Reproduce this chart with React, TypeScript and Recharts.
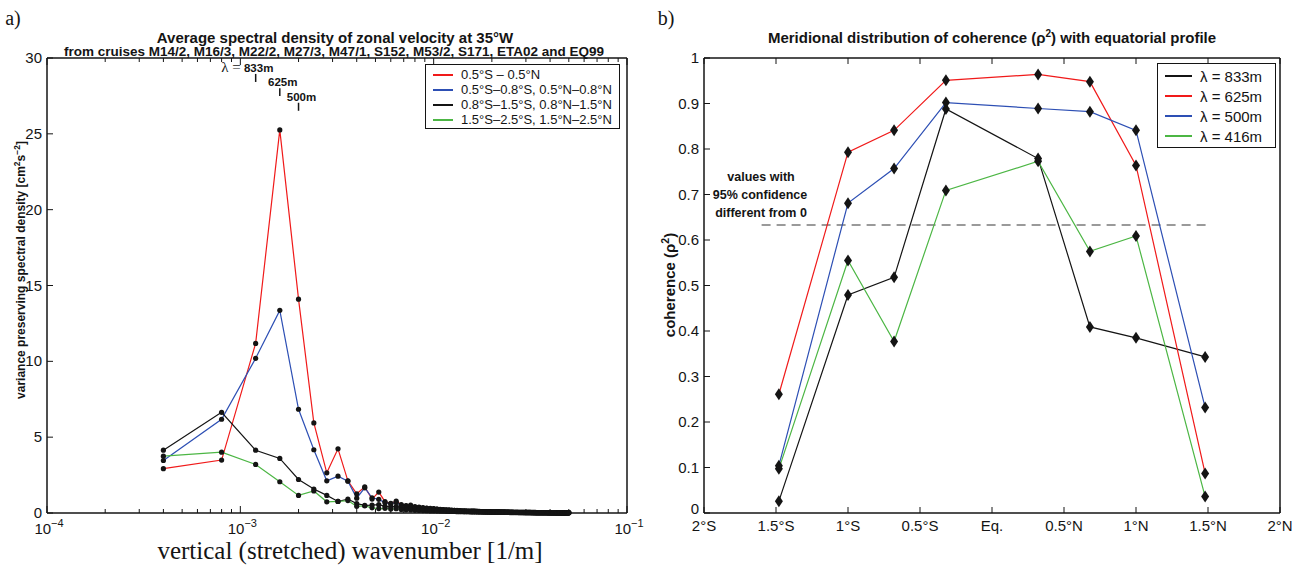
import React from "react";
import { LineChart, Line, XAxis, YAxis, ReferenceLine } from "recharts";

const SANS = "'Liberation Sans', Arial, Helvetica, sans-serif";
const SERIF = "'Liberation Serif', 'Times New Roman', serif";
const INK = "#141414";

// ---- panel a): spectra, one estimate every 1/2500 m^-1 ----
const wavenumberStep = 1 / 2500;

const spectrumEq = [
  2.92, 3.49, 11.18, 25.26, 14.1, 5.94, 2.65, 4.23, 2.12, 1.27,
  1.72, 0.92, 1.38, 0.75, 0.64, 0.78, 0.56, 0.48, 0.52, 0.42,
  0.39, 0.36, 0.33, 0.3, 0.29, 0.26, 0.24, 0.23, 0.21, 0.2,
  0.19, 0.18, 0.17, 0.16, 0.15, 0.15, 0.14, 0.13, 0.13, 0.12,
  0.12, 0.11, 0.11, 0.1, 0.1, 0.1, 0.09, 0.09, 0.09, 0.08,
  0.08, 0.08, 0.08, 0.07, 0.07, 0.07, 0.07, 0.07, 0.06, 0.06,
  0.06, 0.06, 0.06, 0.06, 0.05, 0.05, 0.05, 0.05, 0.05, 0.05,
  0.05, 0.05, 0.04, 0.04, 0.04, 0.04, 0.04, 0.04, 0.04, 0.04,
  0.04, 0.04, 0.04, 0.04, 0.03, 0.03, 0.03, 0.03, 0.03, 0.03,
  0.03, 0.03, 0.03, 0.03, 0.03, 0.03, 0.03, 0.03, 0.03, 0.03,
  0.03, 0.03, 0.03, 0.03, 0.03, 0.02, 0.02, 0.02, 0.02, 0.02,
  0.02, 0.02, 0.02, 0.02, 0.02, 0.02, 0.02, 0.02, 0.02, 0.02,
  0.02, 0.02, 0.02, 0.02, 0.02,
];
const spectrumInner = [
  3.46, 6.18, 10.2, 13.36, 6.84, 4.17, 2.12, 2.43, 2.1, 0.98,
  1.66, 1.0, 0.9, 0.68, 0.6, 0.7, 0.5, 0.46, 0.44, 0.38,
  0.36, 0.33, 0.3, 0.28, 0.27, 0.25, 0.23, 0.22, 0.2, 0.19,
  0.18, 0.17, 0.16, 0.16, 0.15, 0.14, 0.13, 0.13, 0.12, 0.12,
  0.11, 0.11, 0.1, 0.1, 0.09, 0.09, 0.09, 0.08, 0.08, 0.08,
  0.08, 0.07, 0.07, 0.07, 0.07, 0.06, 0.06, 0.06, 0.06, 0.06,
  0.06, 0.05, 0.05, 0.05, 0.05, 0.05, 0.05, 0.05, 0.04, 0.04,
  0.04, 0.04, 0.04, 0.04, 0.04, 0.04, 0.04, 0.04, 0.04, 0.03,
  0.03, 0.03, 0.03, 0.03, 0.03, 0.03, 0.03, 0.03, 0.03, 0.03,
  0.03, 0.03, 0.03, 0.03, 0.03, 0.03, 0.03, 0.03, 0.03, 0.02,
  0.02, 0.02, 0.02, 0.02, 0.02, 0.02, 0.02, 0.02, 0.02, 0.02,
  0.02, 0.02, 0.02, 0.02, 0.02, 0.02, 0.02, 0.02, 0.02, 0.02,
  0.02, 0.02, 0.02, 0.02, 0.02,
];
const spectrumMid = [
  4.14, 6.64, 4.14, 3.6, 2.21, 1.58, 1.16, 0.76, 0.92, 0.62,
  0.5, 0.52, 0.55, 0.44, 0.4, 0.43, 0.35, 0.31, 0.3, 0.27,
  0.25, 0.24, 0.22, 0.2, 0.19, 0.18, 0.17, 0.16, 0.15, 0.14,
  0.14, 0.13, 0.12, 0.12, 0.11, 0.11, 0.1, 0.1, 0.09, 0.09,
  0.09, 0.08, 0.08, 0.08, 0.07, 0.07, 0.07, 0.07, 0.06, 0.06,
  0.06, 0.06, 0.06, 0.05, 0.05, 0.05, 0.05, 0.05, 0.05, 0.04,
  0.04, 0.04, 0.04, 0.04, 0.04, 0.04, 0.04, 0.04, 0.03, 0.03,
  0.03, 0.03, 0.03, 0.03, 0.03, 0.03, 0.03, 0.03, 0.03, 0.03,
  0.03, 0.03, 0.02, 0.02, 0.02, 0.02, 0.02, 0.02, 0.02, 0.02,
  0.02, 0.02, 0.02, 0.02, 0.02, 0.02, 0.02, 0.02, 0.02, 0.02,
  0.02, 0.02, 0.02, 0.02, 0.02, 0.02, 0.02, 0.02, 0.02, 0.02,
  0.01, 0.01, 0.01, 0.01, 0.01, 0.01, 0.01, 0.01, 0.01, 0.01,
  0.01, 0.01, 0.01, 0.01, 0.01,
];
const spectrumOuter = [
  3.75, 4.01, 3.2, 2.06, 1.16, 1.45, 0.74, 0.76, 0.82, 0.44,
  0.47, 0.34, 0.29, 0.31, 0.26, 0.28, 0.23, 0.21, 0.2, 0.18,
  0.17, 0.16, 0.15, 0.14, 0.14, 0.13, 0.12, 0.12, 0.11, 0.1,
  0.1, 0.1, 0.09, 0.09, 0.09, 0.08, 0.08, 0.08, 0.07, 0.07,
  0.07, 0.07, 0.06, 0.06, 0.06, 0.06, 0.06, 0.05, 0.05, 0.05,
  0.05, 0.05, 0.05, 0.04, 0.04, 0.04, 0.04, 0.04, 0.04, 0.04,
  0.04, 0.03, 0.03, 0.03, 0.03, 0.03, 0.03, 0.03, 0.03, 0.03,
  0.03, 0.03, 0.03, 0.02, 0.02, 0.02, 0.02, 0.02, 0.02, 0.02,
  0.02, 0.02, 0.02, 0.02, 0.02, 0.02, 0.02, 0.02, 0.02, 0.02,
  0.02, 0.02, 0.02, 0.02, 0.02, 0.02, 0.01, 0.01, 0.01, 0.01,
  0.01, 0.01, 0.01, 0.01, 0.01, 0.01, 0.01, 0.01, 0.01, 0.01,
  0.01, 0.01, 0.01, 0.01, 0.01, 0.01, 0.01, 0.01, 0.01, 0.01,
  0.01, 0.01, 0.01, 0.01, 0.01,
];

const spectrumSeries = [
  { key: "eq", label: "0.5°S – 0.5°N", color: "#f01a1a" },
  { key: "inner", label: "0.5°S–0.8°S, 0.5°N–0.8°N", color: "#2d4fb4" },
  { key: "mid", label: "0.8°S–1.5°S, 0.8°N–1.5°N", color: INK },
  { key: "outer", label: "1.5°S–2.5°S, 1.5°N–2.5°N", color: "#4cb644" },
];

const decadeTicks = [1e-4, 1e-3, 1e-2, 1e-1];
const decadeExponents = ["−4", "−3", "−2", "−1"];
const densityTicks = [0, 5, 10, 15, 20, 25, 30];

// wavelength marks above the peak
const lambdaMarks = [
  { text: "833m", wavelength: 833, top: 28.95, bottom: 28.42 },
  { text: "625m", wavelength: 625, top: 28.0, bottom: 27.49 },
  { text: "500m", wavelength: 500, top: 27.05, bottom: 26.52 },
];

const logTicks: number[] = [];
decadeTicks.slice(0, 3).forEach((d) => {
  for (let m = 1; m <= 9; m++) logTicks.push(m * d);
});
logTicks.push(1e-1);

const spectrumRows = spectrumEq.map((v, i) => ({
  k: (i + 1) * wavenumberStep,
  eq: v,
  inner: spectrumInner[i],
  mid: spectrumMid[i],
  outer: spectrumOuter[i],
}));

// ---- panel b): coherence with the equatorial profile ----
const latitudes = [-1.48, -1.0, -0.68, -0.32, 0.32, 0.68, 1.0, 1.48];
const coherence833 = [0.026, 0.479, 0.518, 0.888, 0.779, 0.409, 0.385, 0.343];
const coherence625 = [0.261, 0.793, 0.841, 0.951, 0.964, 0.948, 0.764, 0.087];
const coherence500 = [0.104, 0.681, 0.757, 0.902, 0.889, 0.882, 0.841, 0.232];
const coherence416 = [0.097, 0.555, 0.377, 0.709, 0.773, 0.575, 0.609, 0.036];

const coherenceSeries = [
  { key: "c833", label: "λ = 833m", color: INK },
  { key: "c625", label: "λ = 625m", color: "#f01a1a" },
  { key: "c500", label: "λ = 500m", color: "#2d4fb4" },
  { key: "c416", label: "λ = 416m", color: "#4cb644" },
];

const latitudeTicks = [-2, -1.5, -1, -0.5, 0, 0.5, 1, 1.5, 2];
const latitudeLabels = ["2°S", "1.5°S", "1°S", "0.5°S", "Eq.", "0.5°N", "1°N", "1.5°N", "2°N"];
const coherenceTicks = [0, 0.1, 0.2, 0.3, 0.4, 0.5, 0.6, 0.7, 0.8, 0.9, 1];
const significanceLevel = 0.633;
const significanceSpan = [-1.6, 1.52];

const coherenceRows = latitudes.map((lat, i) => ({
  lat,
  c833: coherence833[i],
  c625: coherence625[i],
  c500: coherence500[i],
  c416: coherence416[i],
}));

// ---- tick renderers (all ticks point into the box) ----
const isDecade = (v: number) => decadeTicks.findIndex((d) => Math.abs(v - d) / d < 1e-6);

function LogBottomTick({ x, y, payload }: any) {
  const di = isDecade(payload.value);
  return (
    <g>
      <line x1={x} x2={x} y1={y} y2={y - (di >= 0 ? 7 : 4)} stroke={INK} />
      {di >= 0 && (
        <text x={x + 2} y={y + 21} textAnchor="middle" fontSize={15} fill={INK} fontFamily={SANS}>
          10
          <tspan dy={-7} fontSize={11}>
            {decadeExponents[di]}
          </tspan>
        </text>
      )}
    </g>
  );
}

function LogTopTick({ x, y, payload }: any) {
  const di = isDecade(payload.value);
  return <line x1={x} x2={x} y1={y} y2={y + (di >= 0 ? 7 : 4)} stroke={INK} />;
}

function LeftTick({ x, y, payload, fmt, zeroLift = 0 }: any) {
  const lift = payload.value === 0 ? zeroLift : 0;
  return (
    <g>
      <line x1={x} x2={x + 6} y1={y} y2={y} stroke={INK} />
      <text x={x - 5} y={y + 5 - lift} textAnchor="end" fontSize={15} fill={INK} fontFamily={SANS}>
        {fmt ? fmt(payload.value) : payload.value}
      </text>
    </g>
  );
}

function RightTick({ x, y }: any) {
  return <line x1={x} x2={x - 6} y1={y} y2={y} stroke={INK} />;
}

function LatBottomTick({ x, y, index }: any) {
  return (
    <g>
      <line x1={x} x2={x} y1={y} y2={y - 6} stroke={INK} />
      <text x={x} y={y + 18} textAnchor="middle" fontSize={15} fill={INK} fontFamily={SANS}>
        {latitudeLabels[index]}
      </text>
    </g>
  );
}

function LatTopTick({ x, y }: any) {
  return <line x1={x} x2={x} y1={y} y2={y + 6} stroke={INK} />;
}

function Diamond({ cx, cy }: any) {
  if (cx == null || cy == null) return null;
  return <path d={`M${cx},${cy - 6}L${cx + 4},${cy}L${cx},${cy + 6}L${cx - 4},${cy}Z`} fill={INK} />;
}

const fmtCoherence = (v: number) => (v === 0 || v === 1 ? String(v) : v.toFixed(1));

// ---- HTML text helpers ----
function Txt({ x, y, children, style }: any) {
  return (
    <div
      style={{
        position: "absolute",
        left: x,
        top: y,
        transform: "translate(-50%, -50%)",
        whiteSpace: "nowrap",
        fontFamily: SANS,
        color: INK,
        lineHeight: 1,
        ...style,
      }}
    >
      {children}
    </div>
  );
}

function Legend({ left, top, width, rowHeight, fontSize, items, lineWidth }: any) {
  return (
    <div
      style={{
        position: "absolute",
        left,
        top,
        width,
        padding: "2px 0 1px 0",
        border: `1.5px solid ${INK}`,
        background: "#fff",
        fontFamily: SANS,
        fontSize,
        color: INK,
        boxSizing: "border-box",
      }}
    >
      {items.map((s: any) => (
        <div key={s.key} style={{ display: "flex", alignItems: "center", height: rowHeight, whiteSpace: "nowrap" }}>
          <span style={{ display: "inline-block", width: lineWidth, height: 2, background: s.color, margin: "0 8px 0 7px" }} />
          {s.label}
        </div>
      ))}
    </div>
  );
}

export default function App() {
  return (
    <div style={{ position: "absolute", left: 0, top: 0, width: 1297, height: 570, background: "#fff" }}>
      {/* panel a */}
      <div style={{ position: "absolute", left: 0, top: 0 }}>
        <LineChart width={650} height={570} data={spectrumRows} margin={{ top: 48, right: 0, bottom: 0, left: 0 }}>
          <XAxis
            dataKey="k"
            type="number"
            scale="log"
            domain={[1e-4, 1e-1]}
            ticks={logTicks}
            interval={0}
            height={57}
            tickSize={0}
            tickMargin={0}
            axisLine={{ stroke: INK, strokeWidth: 1.5 }}
            tick={(p: any) => <LogBottomTick {...p} />}
          />
          <XAxis
            xAxisId="top"
            orientation="top"
            dataKey="k"
            type="number"
            scale="log"
            domain={[1e-4, 1e-1]}
            ticks={logTicks}
            interval={0}
            height={10}
            tickSize={0}
            tickMargin={0}
            axisLine={{ stroke: INK, strokeWidth: 1.5 }}
            tick={(p: any) => <LogTopTick {...p} />}
          />
          <YAxis
            type="number"
            domain={[0, 30]}
            ticks={densityTicks}
            interval={0}
            width={47}
            tickSize={0}
            tickMargin={0}
            axisLine={{ stroke: INK, strokeWidth: 1.5 }}
            tick={(p: any) => <LeftTick {...p} />}
          />
          <YAxis
            yAxisId="r"
            orientation="right"
            type="number"
            domain={[0, 30]}
            ticks={densityTicks}
            interval={0}
            width={23}
            tickSize={0}
            tickMargin={0}
            axisLine={{ stroke: INK, strokeWidth: 1.5 }}
            tick={(p: any) => <RightTick {...p} />}
          />
          {lambdaMarks.map((m, i) => (
            <ReferenceLine
              key={m.text}
              segment={[
                { x: 1 / m.wavelength, y: m.top },
                { x: 1 / m.wavelength, y: m.bottom },
              ]}
              stroke={INK}
              strokeWidth={1.5}
              label={(p: any) => (
                <g>
                  {i === 0 && (
                    <text x={p.viewBox.x - 15} y={p.viewBox.y - 2} textAnchor="end" fontSize={15} fill={INK} fontFamily={SERIF}>
                      λ =
                    </text>
                  )}
                  <text
                    x={p.viewBox.x + 3}
                    y={p.viewBox.y - 2}
                    textAnchor="middle"
                    fontSize={11.5}
                    fontWeight="bold"
                    fill={INK}
                    fontFamily={SANS}
                  >
                    {m.text}
                  </text>
                </g>
              )}
            />
          ))}
          {spectrumSeries.map((s) => (
            <Line
              key={s.key}
              dataKey={s.key}
              type="linear"
              stroke={s.color}
              strokeWidth={1.2}
              dot={{ r: 2.6, fill: INK, stroke: INK, strokeWidth: 0 }}
              activeDot={false}
              isAnimationActive={false}
            />
          ))}
        </LineChart>
      </div>

      {/* panel b */}
      <div style={{ position: "absolute", left: 650, top: 0 }}>
        <LineChart width={647} height={570} data={coherenceRows} margin={{ top: 48, right: 0, bottom: 0, left: 0 }}>
          <XAxis
            dataKey="lat"
            type="number"
            domain={[-2, 2]}
            ticks={latitudeTicks}
            interval={0}
            height={57}
            tickSize={0}
            tickMargin={0}
            axisLine={{ stroke: INK, strokeWidth: 1.5 }}
            tick={(p: any) => <LatBottomTick {...p} />}
          />
          <XAxis
            xAxisId="top"
            orientation="top"
            dataKey="lat"
            type="number"
            domain={[-2, 2]}
            ticks={latitudeTicks}
            interval={0}
            height={10}
            tickSize={0}
            tickMargin={0}
            axisLine={{ stroke: INK, strokeWidth: 1.5 }}
            tick={(p: any) => <LatTopTick {...p} />}
          />
          <YAxis
            type="number"
            domain={[0, 1]}
            ticks={coherenceTicks}
            interval={0}
            width={54}
            tickSize={0}
            tickMargin={0}
            axisLine={{ stroke: INK, strokeWidth: 1.5 }}
            tick={(p: any) => <LeftTick {...p} fmt={fmtCoherence} zeroLift={4} />}
          />
          <YAxis
            yAxisId="r"
            orientation="right"
            type="number"
            domain={[0, 1]}
            ticks={coherenceTicks}
            interval={0}
            width={17}
            tickSize={0}
            tickMargin={0}
            axisLine={{ stroke: INK, strokeWidth: 1.5 }}
            tick={(p: any) => <RightTick {...p} />}
          />
          <ReferenceLine
            segment={[
              { x: significanceSpan[0], y: significanceLevel },
              { x: significanceSpan[1], y: significanceLevel },
            ]}
            stroke="#7a7a7a"
            strokeWidth={1.5}
            strokeDasharray="9 6"
          />
          {coherenceSeries.map((s) => (
            <Line
              key={s.key}
              dataKey={s.key}
              type="linear"
              stroke={s.color}
              strokeWidth={1.2}
              dot={(p: any) => <Diamond key={`${s.key}-${p.index}`} {...p} />}
              activeDot={false}
              isAnimationActive={false}
            />
          ))}
        </LineChart>
      </div>

      {/* titles and labels */}
      <Txt x={13} y={18} style={{ fontFamily: SERIF, fontSize: 20 }}>a)</Txt>
      <Txt x={335} y={37} style={{ fontSize: 15, fontWeight: "bold" }}>
        Average spectral density of zonal velocity at 35°W
      </Txt>
      <Txt x={334} y={52} style={{ fontSize: 13.5, fontWeight: "bold" }}>
        from cruises M14/2, M16/3, M22/2, M27/3, M47/1, S152, M53/2, S171, ETA02 and EQ99
      </Txt>
      <Txt x={20} y={270} style={{ fontSize: 12, fontWeight: "bold", transform: "translate(-50%, -50%) rotate(-90deg)" }}>
        variance preserving spectral density [cm<sup style={{ fontSize: 8.5 }}>2</sup>s<sup style={{ fontSize: 8.5 }}>−2</sup>]
      </Txt>
      <Txt x={350} y={550} style={{ fontFamily: SERIF, fontSize: 25 }}>
        vertical (stretched) wavenumber [1/m]
      </Txt>

      <Txt x={666} y={18} style={{ fontFamily: SERIF, fontSize: 20 }}>b)</Txt>
      <Txt x={992} y={37} style={{ fontSize: 15, fontWeight: "bold" }}>
        Meridional distribution of coherence (ρ<sup style={{ fontSize: 10 }}>2</sup>) with equatorial profile
      </Txt>
      <Txt x={668} y={285} style={{ fontSize: 15, fontWeight: "bold", transform: "translate(-50%, -50%) rotate(-90deg)" }}>
        coherence (ρ<sup style={{ fontSize: 10.5 }}>2</sup>)
      </Txt>
      <Txt x={761} y={177} style={{ fontSize: 12.5, fontWeight: "bold" }}>values with</Txt>
      <Txt x={760} y={195} style={{ fontSize: 12.5, fontWeight: "bold" }}>95% confidence</Txt>
      <Txt x={761} y={213} style={{ fontSize: 12.5, fontWeight: "bold" }}>different from 0</Txt>

      <Legend left={425} top={64} width={195} rowHeight={15} fontSize={13} lineWidth={20} items={spectrumSeries} />
      <Legend left={1157} top={63} width={119} rowHeight={20} fontSize={15} lineWidth={27} items={coherenceSeries} />
    </div>
  );
}
